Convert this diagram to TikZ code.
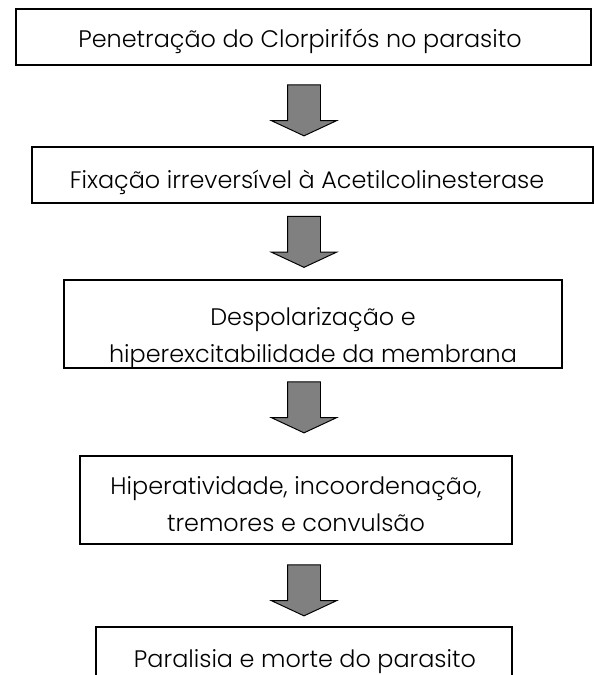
\documentclass[tikz,border=0pt]{standalone}
\usepackage{fontspec}
\setmainfont{Poppins Light}
\usetikzlibrary{calc,shapes.arrows}
\definecolor{ArrFill}{HTML}{808080}
\tikzset{
  every picture/.append style={font=\fontsize{17pt}{25.8pt}\selectfont},
  box/.style={rectangle, draw=black, fill=white, line width=1pt, inner sep=0pt},
  txt/.style={align=center, inner sep=0pt, anchor=base},
  dnarrow/.style={single arrow, draw=black, fill=ArrFill, line width=0.7pt,
                  rotate=-90, inner xsep=0pt, inner ysep=0.4cm, minimum height=1.275cm, minimum width=1.6cm,
                  single arrow head extend=0.4cm, single arrow tip angle=130},
}

\begin{document}
\begin{tikzpicture}[x=1cm,y=1cm]
\useasboundingbox (0,0) rectangle (14.85,-16.875);

% ---------------- boxes ----------------------------------------------------
\node[box, minimum width=14.375cm, minimum height=1.4cm] (pen) at (7.5875,-0.925) {};
\node[txt] (penT) at (7.5,-1.175) {Penetração do Clorpirifós no parasito};

\node[box, minimum width=14.025cm, minimum height=1.4cm] (fix) at (7.8125,-4.375) {};
\node[txt] (fixT) at (7.675,-4.7) {Fixação irreversível à Acetilcolinesterase};

\node[box, minimum width=12.45cm, minimum height=2.2cm] (desp) at (7.825,-8.1) {};
\begin{scope}
  \clip (desp.north west) rectangle ($(desp.south east)+(0,0.05)$);
  \node[txt] (despT) at (7.825,-9.05) {Despolarização e\\hiperexcitabilidade da membrana};
\end{scope}

\node[box, minimum width=10.8cm, minimum height=2.2cm] (hip) at (7.4,-12.5) {};
\begin{scope}
  \clip (hip.north west) rectangle ($(hip.south east)+(0,0.2)$);
  \node[txt] (hipT) at (7.4,-13.275) {Hiperatividade, incoordenação,\\tremores e convulsão};
\end{scope}

\node[box, minimum width=10.4cm, minimum height=2.2cm] (par) at (7.6,-16.775) {};
\node[txt] (parT) at (7.625,-16.675) {Paralisia e morte do parasito};

% ---------------- block arrows ---------------------------------------------
\foreach \i/\y in {1/-2.6625,2/-5.95,3/-10.0875,4/-14.6625}{
  \node[dnarrow] (arr\i) at (7.6,\y) {};}

\end{tikzpicture}
\end{document}
